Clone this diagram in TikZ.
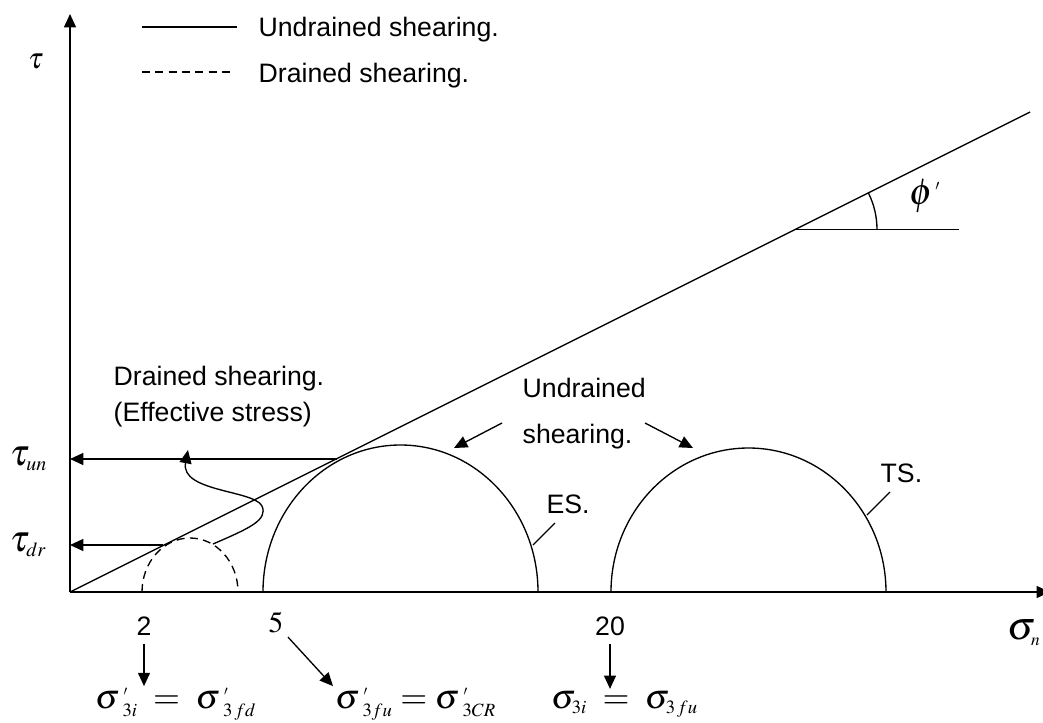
\documentclass[tikz,border=0pt]{standalone}
\usepackage{mathptmx}
\DeclareMathSizes{26}{26}{14}{10}
\DeclareMathSizes{28}{28}{15}{11}
\DeclareMathSizes{30}{30}{13}{10}
\usepackage[no-math]{fontspec}
\setmainfont{Liberation Sans}
\usetikzlibrary{arrows.meta,positioning}
\newcommand{\sgp}[1]{\sigma^{\hskip3pt\scriptscriptstyle\prime}_{\hskip5pt #1}}

\begin{document}
\begin{tikzpicture}[x=0.75pt,y=-0.75pt,line width=1pt,
  txt/.style={font=\fontsize{20}{24}\selectfont,inner sep=0pt,anchor=base west},
  sym/.style={font=\fontsize{26}{30}\selectfont,inner sep=1pt,anchor=base west},
  big/.style={sym,font=\fontsize{28}{32}\selectfont},
  tip/.style={-{Triangle[length=10pt,width=9pt]}},
  drn/.style={dash pattern=on 6pt off 4pt}]
\useasboundingbox (0,0) rectangle (1043,722);
% axes
\coordinate (O) at (70,592);
\coordinate (Ytop) at (70,14);
\coordinate (Xend) at (1050,592);
\draw[tip] (O) -- (Ytop);
\draw[tip] (O) -- (Xend);
\node[sym,font=\fontsize{22}{26}\selectfont] (tau) at (26,68) {$\tau$};
\node[sym,font=\fontsize{30}{34}\selectfont] (sign) at (1005,639) {$\sigma_{n}$};
% legend
\coordinate (L1a) at (142,27);
\coordinate (L1b) at (237,27);
\coordinate (L2a) at (142,72);
\coordinate (L2b) at (233,72);
\draw (L1a) -- (L1b);
\draw[drn] (L2a) -- (L2b);
\node[txt] (leg1) at (258,36) {Undrained shearing.};
\node[txt] (leg2) at (258,82) {Drained shearing.};
% failure envelope
\coordinate (Fend) at (1030,112);
\draw (O) -- (Fend);
\coordinate (Phc) at (795,229.5);
\coordinate (Phe) at (959,229.5);
\draw (Phc) -- (Phe);
\draw (Phc) ++(82,0) arc[start angle=0,end angle=-26.57,radius=82];
\node[big] (phi) at (907,204) {$\phi^{\hskip2pt\scriptscriptstyle\prime}$};
% Mohr circles
\draw[drn] (142,592) arc[start angle=180,end angle=360,x radius=48,y radius=54];
\draw (263,592) arc[start angle=180,end angle=360,x radius=137.5,y radius=147];
\draw (611,592) arc[start angle=180,end angle=360,x radius=137.5,y radius=144];
\coordinate (ESp) at (533,545);
\coordinate (ESq) at (555,523);
\draw (ESp) -- (ESq);
\node[txt] (es) at (546,513) {ES.};
\coordinate (TSp) at (867,515);
\coordinate (TSq) at (890,492);
\draw (TSp) -- (TSq);
\node[txt] (ts) at (880,482) {TS.};
% shear stresses
\coordinate (Tun) at (337,459);
\coordinate (Tunax) at (70,459);
\coordinate (Tdr) at (163,545);
\coordinate (Tdrax) at (70,545);
\draw[tip] (Tun) -- (Tunax);
\draw[tip] (Tdr) -- (Tdrax);
\node[big] (taun) at (8,465) {$\tau_{un}$};
\node[big] (taud) at (8,551) {$\tau_{dr}$};
% drained label
\node[txt] (dr1) at (113,385) {Drained shearing.};
\node[txt] (dr2) at (113,421) {(Effective stress)};
\coordinate (Ca) at (213,544);
\coordinate (Cb) at (188,450);
\draw[tip] (Ca) .. controls (250,528) and (268,520) .. (262,506)
  .. controls (254,490) and (180,492) .. (Cb);
% undrained label
\node[txt] (un1) at (522,397) {Undrained};
\node[txt] (un2) at (522,443) {shearing.};
\coordinate (Ua) at (502,423);
\coordinate (Ub) at (454,448);
\coordinate (Va) at (645,423);
\coordinate (Vb) at (693,448);
\draw[tip] (Ua) -- (Ub);
\draw[tip] (Va) -- (Vb);
% confining stresses
\node[txt,anchor=base] (n2) at (144,635) {2};
\node[txt,anchor=base,inner sep=3pt,font=\fontsize{22}{26}\selectfont] (n5) at (276,632) {$5$};
\node[txt,anchor=base] (n20) at (610,635) {20};
\node[sym] (f1) at (93,708) {$\sgp{3i}\;=\;\sgp{3\,fd}$};
\node[sym] (f2) at (333,708) {$\sgp{3fu}=\sgp{3CR}$};
\node[sym] (f3) at (549,708) {$\sigma_{3i}\;=\;\sigma_{3\,fu}$};
\draw[tip] ([yshift=-6pt]n2.south) -- (n2.south |- f1.north);
\draw[tip] (n5.south east) -- (f2.north west);
\draw[tip] ([yshift=-6pt]n20.south) -- (n20.south |- f3.north);
\end{tikzpicture}
\end{document}
